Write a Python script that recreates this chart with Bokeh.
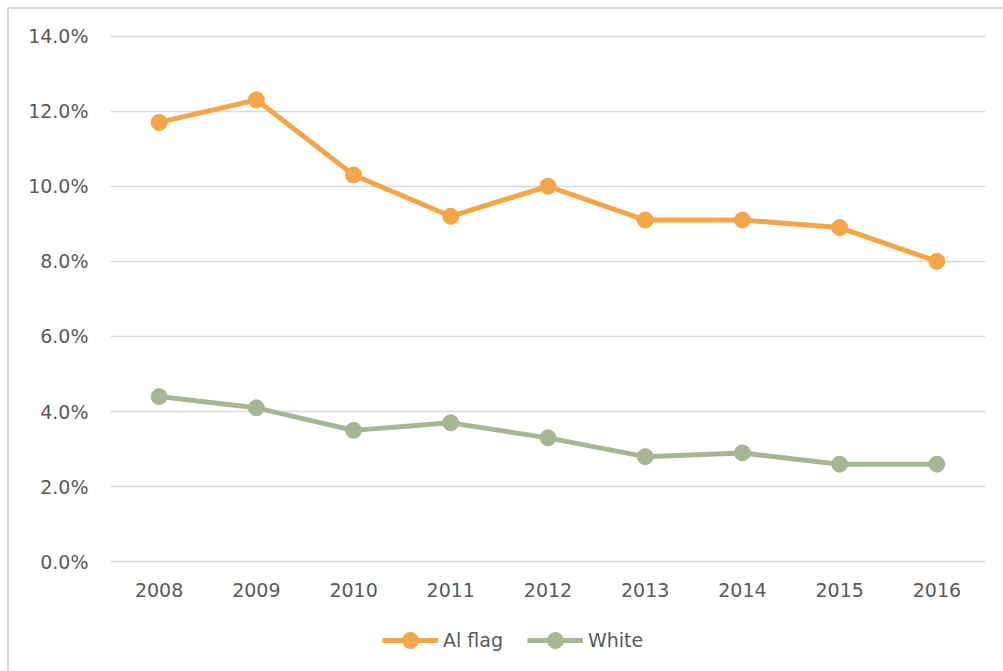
from bokeh.plotting import figure
from bokeh.models import ColumnDataSource, Legend, LegendItem, PrintfTickFormatter, FactorRange, Range1d
from bokeh.embed import file_html
from bokeh.resources import INLINE

years = ["2008", "2009", "2010", "2011", "2012", "2013", "2014", "2015", "2016"]
al_flag = [11.7, 12.3, 10.3, 9.2, 10.0, 9.1, 9.1, 8.9, 8.0]
white = [4.4, 4.1, 3.5, 3.7, 3.3, 2.8, 2.9, 2.6, 2.6]
y_ticks = [0, 2, 4, 6, 8, 10, 12, 14]

ORANGE = "#F4A546"
GREEN = "#A6B693"
TEXT = "#595959"
GRID = "#D9D9D9"
FONT = "DejaVu Sans"

src = ColumnDataSource(dict(year=years, al=al_flag, white=white))

p = figure(width=1003, height=671, x_range=FactorRange(*years, range_padding=0),
           y_range=Range1d(-2.92, 14.04), output_backend="svg", toolbar_location=None,
           min_border_left=110, min_border_right=18, min_border_top=34, min_border_bottom=0)
p.styles = {
    "background": ("linear-gradient(#D9D9D9,#D9D9D9) 7px 7px / 100% 2px no-repeat, "
                   "linear-gradient(#D9D9D9,#D9D9D9) 7px 7px / 2px 100% no-repeat, white"),
}
p.outline_line_color = None
p.background_fill_color = "white"
p.border_fill_color = None

p.xgrid.grid_line_color = None
p.ygrid.grid_line_color = GRID
p.ygrid.grid_line_width = 1.5

p.yaxis.ticker = y_ticks
p.yaxis.formatter = PrintfTickFormatter(format="%.1f%%")
p.xaxis.fixed_location = 0
for ax in (p.xaxis[0], p.yaxis[0]):
    ax.axis_line_color = None
    ax.major_tick_line_color = None
    ax.minor_tick_line_color = None
    ax.major_label_text_color = TEXT
    ax.major_label_text_font = FONT
    ax.major_label_text_font_size = "19px"
p.yaxis.major_label_standoff = 16
p.xaxis.major_label_standoff = 15

l1 = p.line("year", "al", source=src, line_color=ORANGE, line_width=5)
c1 = p.scatter("year", "al", source=src, size=16, fill_color=ORANGE, line_color=ORANGE)
l2 = p.line("year", "white", source=src, line_color=GREEN, line_width=5)
c2 = p.scatter("year", "white", source=src, size=16, fill_color=GREEN, line_color=GREEN)

legend = Legend(items=[LegendItem(label="Al flag", renderers=[l1, c1]),
                       LegendItem(label="White", renderers=[l2, c2])],
                orientation="horizontal", location=(272, 11),
                glyph_width=56, glyph_height=40, label_standoff=5, spacing=24,
                padding=0, margin=0, border_line_color=None, background_fill_alpha=0,
                label_text_font=FONT, label_text_font_size="19px", label_text_color=TEXT)
p.add_layout(legend, "center")

open("out.html", "w").write(file_html(p, INLINE))
